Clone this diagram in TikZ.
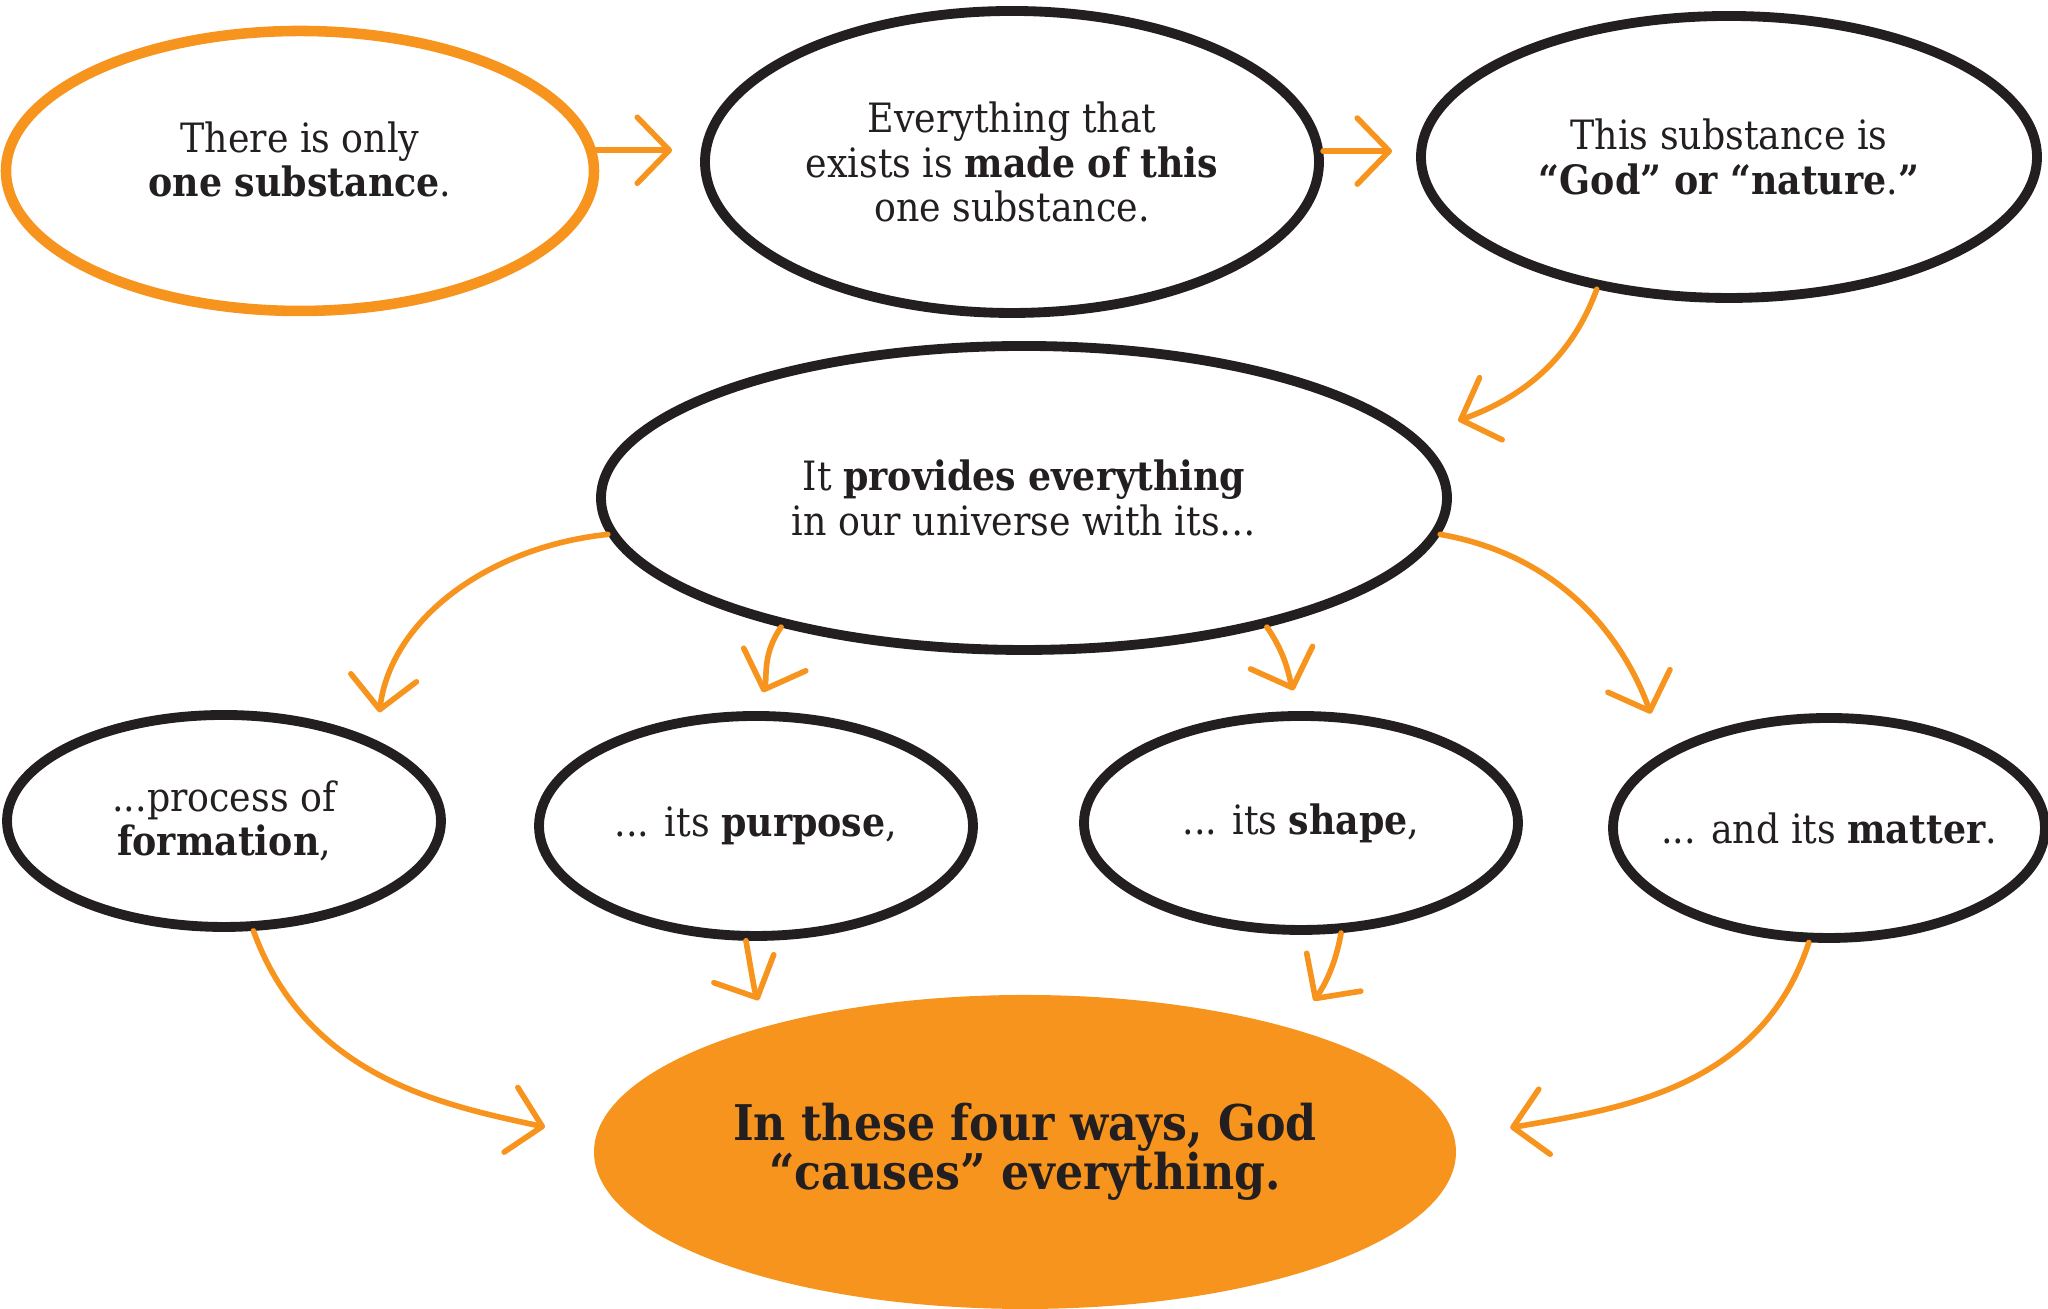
\documentclass[tikz,border=0pt]{standalone}
\usepackage{fontspec}
\setmainfont{DejaVu Serif Condensed}
\usetikzlibrary{shapes.geometric,arrows.meta}

\definecolor{spinorange}{HTML}{F7941D}
\definecolor{spinblack}{HTML}{231F20}

\tikzset{
  bubble/.style={ellipse, draw=spinblack, line width=2.8pt, inner sep=0pt,
    align=center, text=spinblack, font=\fontsize{11.5}{12.6}\selectfont},
  flow/.style={draw=spinorange, line width=1.6pt, line cap=round,
    -{Straight Barb[length=3.2mm,width=6.6mm,round]}},
}

\begin{document}
\begin{tikzpicture}

\useasboundingbox (0,0) rectangle (20.48,13.09);

% nodes
\node[bubble, draw=spinorange, line width=3pt, minimum width=5.88cm, minimum height=2.80cm,
  text depth=0.24cm] (one) at (3.00,11.38)
  {There is only\\\textbf{one substance}.};
\node[bubble, minimum width=6.14cm, minimum height=3.02cm] (made) at (10.12,11.47)
  {Everything that\\exists is \textbf{made of this}\\one substance.};
\node[bubble, minimum width=6.16cm, minimum height=2.82cm] (god) at (17.29,11.52)
  {This substance is\\\textbf{“God” or “nature}.\textbf{”}};
\node[bubble, minimum width=8.46cm, minimum height=3.04cm] (prov) at (10.24,8.11)
  {It \textbf{provides everything}\\in our universe with its\dots};

\node[bubble, minimum width=4.34cm, minimum height=2.12cm] (form) at (2.24,4.88)
  {...process of\\\textbf{formation},};
\node[bubble, minimum width=4.34cm, minimum height=2.20cm, inner xsep=-0.2cm] (purp) at (7.56,4.83)
  {... its \textbf{purpose},};
\node[bubble, minimum width=4.34cm, minimum height=2.14cm, inner xsep=-0.2cm] (shape) at (13.01,4.86)
  {... its \textbf{shape},};
\node[bubble, minimum width=4.32cm, minimum height=2.20cm, inner xsep=-0.4cm] (matter) at (18.29,4.81)
  {... and its \textbf{matter}.};

\node[bubble, draw=none, fill=spinorange, minimum width=8.62cm, minimum height=3.14cm,
  font=\fontsize{14}{14.1}\selectfont\bfseries] (cause) at (10.25,1.57)
  {In these four ways, God\\“causes” everything.};

% arrows
\draw[flow, shorten >=0.28cm] (one.4) -- (one.4 -| made.west);
\draw[flow, shorten >=0.24cm] (made.2) -- (made.2 -| god.west);
\draw[flow, shorten >=0.44cm] (god.225) to[out=250,in=20] (prov.9);

\draw[flow, shorten >=0.28cm] (prov.185) to[out=186,in=83] (form.28);
\draw[flow, shorten >=0.2cm] (prov.208) to[out=235,in=70] (purp.north);
\draw[flow, shorten >=0.22cm] (prov.332) to[out=-55,in=110] (shape.north);
\draw[flow, shorten >=0.4cm] (prov.355) to[out=-10,in=110] (matter.155);

\draw[flow, shorten >=0.47cm] (form.-75) to[out=-70,in=168] (cause.178);
\draw[flow, shorten >=0.23cm] (purp.265) to[out=-80,in=115] (cause.153);
\draw[flow, shorten >=0.3cm] (shape.-70) to[out=-100,in=55] (cause.25);
\draw[flow, shorten >=0.52cm] (matter.-100) to[out=-108,in=10] (cause.2);

\end{tikzpicture}
\end{document}
